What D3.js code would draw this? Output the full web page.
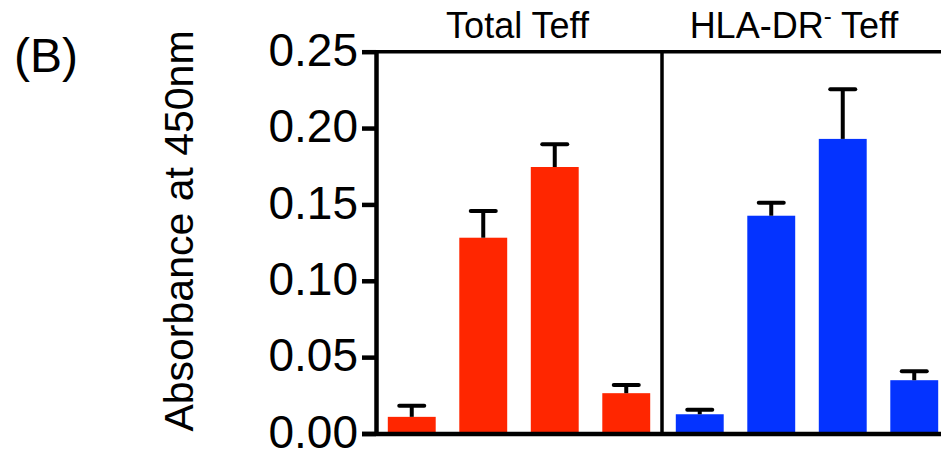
<!DOCTYPE html>
<html>
<head>
<meta charset="utf-8">
<script src="https://cdn.jsdelivr.net/npm/d3@7"></script>
<style>
  html, body { margin: 0; padding: 0; background: #fff; }
  svg { display: block; }
  text { font-family: "Liberation Sans", Arial, Helvetica, sans-serif; fill: #000; }
</style>
</head>
<body>
<script>
// ---- data ----
const categories = ["Condition 1", "Condition 2", "Condition 3", "Condition 4"];
const panelTitles = ["Total Teff", "HLA-DR- Teff"];
const totalTeffMean = [0.0109, 0.1282, 0.1745, 0.0264];
const totalTeffErr  = [0.0072, 0.0175, 0.0149, 0.0053];
const drNegTeffMean = [0.0126, 0.1426, 0.1929, 0.0349];
const drNegTeffErr  = [0.0029, 0.0085, 0.0325, 0.0059];
const yTicks = [0, 0.05, 0.10, 0.15, 0.20, 0.25];
const yLabel = "Absorbance at 450nm";
const panelLabel = "(B)";

// ---- layout ----
const W = 941, H = 453;
const svg = d3.select("body").append("svg").attr("width", W).attr("height", H);

const y = d3.scaleLinear().domain([0, 0.25]).range([433.5, 51.7]);
const axisX = 376, dividerX = 662;

const x1 = d3.scaleBand().domain(categories).range([376, 662]).paddingInner(0.33).paddingOuter(0.165);
const x2 = d3.scaleBand().domain(categories).range([664, 950]).paddingInner(0.33).paddingOuter(0.165);

const panels = [
  { x: x1, mean: totalTeffMean, err: totalTeffErr, color: "#FF2600", title: panelTitles[0], tx: 517.5 },
  { x: x2, mean: drNegTeffMean, err: drNegTeffErr, color: "#0433FF", title: panelTitles[1], tx: 794 }
];

// bars + error bars
panels.forEach(p => {
  const g = svg.append("g");
  const data = categories.map((c, i) => ({ c, m: p.mean[i], e: p.err[i] }));
  g.selectAll("rect").data(data).enter().append("rect")
    .attr("x", d => p.x(d.c))
    .attr("width", p.x.bandwidth())
    .attr("y", d => y(d.m))
    .attr("height", d => y(0) - y(d.m))
    .attr("fill", p.color);
  const cx = d => p.x(d.c) + p.x.bandwidth() / 2;
  g.selectAll("line.v").data(data).enter().append("line")
    .attr("x1", cx).attr("x2", cx)
    .attr("y1", d => y(d.m)).attr("y2", d => y(d.m + d.e))
    .attr("stroke", "#000").attr("stroke-width", 4);
  g.selectAll("line.c").data(data).enter().append("line")
    .attr("x1", d => cx(d) - 12.5).attr("x2", d => cx(d) + 12.5)
    .attr("y1", d => y(d.m + d.e)).attr("y2", d => y(d.m + d.e))
    .attr("stroke", "#000").attr("stroke-width", 4).attr("stroke-linecap", "round");
});

// frame lines
svg.append("line").attr("x1", axisX).attr("x2", W).attr("y1", y(0.25)).attr("y2", y(0.25))
  .attr("stroke", "#000").attr("stroke-width", 3.5);
svg.append("line").attr("x1", dividerX).attr("x2", dividerX).attr("y1", y(0.25)).attr("y2", y(0))
  .attr("stroke", "#000").attr("stroke-width", 3.5);
svg.append("line").attr("x1", 362).attr("x2", W).attr("y1", y(0) + 0.5).attr("y2", y(0) + 0.5)
  .attr("stroke", "#000").attr("stroke-width", 4.5);

// y axis
const yAxis = d3.axisLeft(y).tickValues(yTicks).tickFormat(d3.format(".2f"))
  .tickSize(14).tickSizeOuter(0).tickPadding(4);
const ga = svg.append("g").attr("transform", `translate(${axisX},0)`).call(yAxis);
ga.select(".domain").attr("stroke", "#000").attr("stroke-width", 4.5);
ga.selectAll(".tick line").attr("stroke", "#000").attr("stroke-width", 4.5);
ga.selectAll(".tick text").attr("font-size", 46).attr("fill", "#000").attr("dy", "0.3em")
  .style("font-family", "'Liberation Sans', Arial, sans-serif");

// titles
panels.forEach(p => {
  const t = svg.append("text").attr("x", p.tx).attr("y", 38)
    .attr("text-anchor", "middle").attr("font-size", 36);
  if (p.title.indexOf("DR-") >= 0) {
    const parts = p.title.split("DR-");
    t.append("tspan").text(parts[0] + "DR");
    t.append("tspan").text("-").attr("font-size", 24).attr("dy", -14);
    t.append("tspan").text(parts[1]).attr("dy", 14);
  } else {
    t.text(p.title);
  }
});

// y label
svg.append("text").attr("transform", "translate(193,231) rotate(-90)")
  .attr("text-anchor", "middle").attr("font-size", 41).text(yLabel);

// panel letter
svg.append("text").attr("x", 14).attr("y", 72).attr("font-size", 48).text(panelLabel);
</script>
</body>
</html>
